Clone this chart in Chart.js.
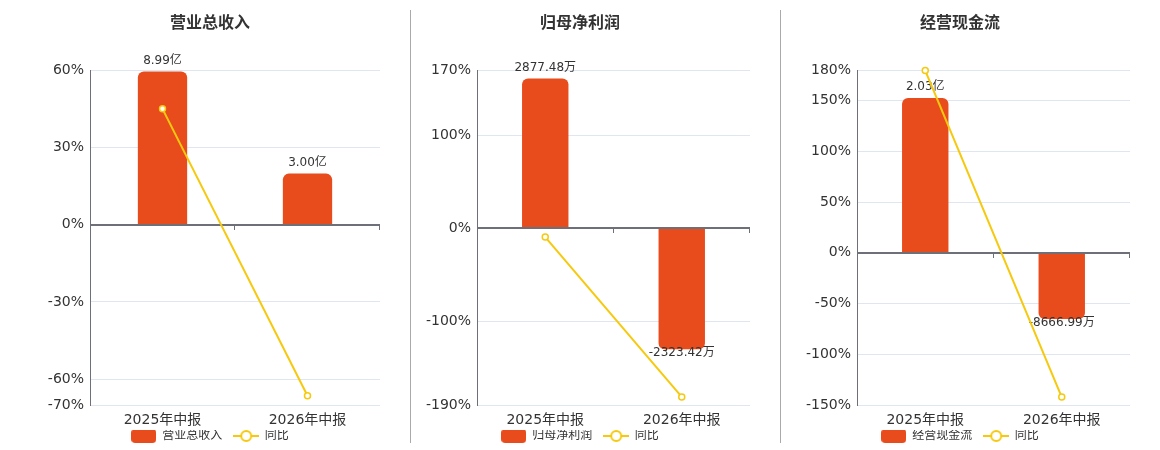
<!DOCTYPE html>
<html>
<head>
<meta charset="utf-8">
<script src="https://cdn.jsdelivr.net/npm/chart.js@4.4.1/dist/chart.umd.min.js"></script>
<style>
  html, body { margin: 0; padding: 0; background: #fff; overflow: hidden; }
  #wrap { position: relative; width: 1160px; height: 450px; overflow: hidden; }
  canvas { position: absolute; top: 0; }
  .sep { position: absolute; top: 10px; width: 1px; height: 433px; background: #aaa; z-index: 2; }
</style>
</head>
<body>
<div id="wrap">
  <canvas id="c1" width="340" height="452" style="left:40px"></canvas>
  <canvas id="c2" width="340" height="452" style="left:410px"></canvas>
  <canvas id="c3" width="340" height="452" style="left:790px"></canvas>
  <div class="sep" style="left:410px"></div>
  <div class="sep" style="left:780px"></div>
</div>
<script>
const periods = ["2025年中报", "2026年中报"];

// 营业总收入, values in 万
const revenue = [89900, 30000];
const revenueLabels = ["8.99亿", "3.00亿"];
const revenueYoy = [45.0, -66.4];
const revenueTicks = [60, 30, 0, -30, -60, -70];

// 归母净利润, values in 万
const netProfit = [2877.48, -2323.42];
const netProfitLabels = ["2877.48万", "-2323.42万"];
const netProfitYoy = [-9.4, -181.3];
const netProfitTicks = [170, 100, 0, -100, -190];

// 经营现金流, values in 万
const cashFlow = [20300, -8666.99];
const cashFlowLabels = ["2.03亿", "-8666.99万"];
const cashFlowYoy = [179.6, -142.2];
const cashFlowTicks = [180, 150, 100, 50, 0, -50, -100, -150];

const FONT = '"DejaVu Sans", "Noto Sans CJK SC", sans-serif';
const RED = "#E84B1C";
const YELLOW = "#F6C90E";
const AXIS = "#6E7079";

Chart.defaults.font.family = FONT;

// legend swatches: rounded bar block and line-with-circle
const barSwatch = document.createElement("canvas");
barSwatch.width = 25;
barSwatch.height = 14;
{
  const c = barSwatch.getContext("2d");
  c.fillStyle = RED;
  c.beginPath();
  c.roundRect(0, 0, 25, 14, 4);
  c.fill();
}
const lineSwatch = document.createElement("canvas");
lineSwatch.width = 26;
lineSwatch.height = 14;
{
  const c = lineSwatch.getContext("2d");
  c.strokeStyle = YELLOW;
  c.lineWidth = 2;
  c.beginPath();
  c.moveTo(0, 7);
  c.lineTo(26, 7);
  c.stroke();
  c.fillStyle = "#fff";
  c.beginPath();
  c.arc(13, 7, 5, 0, Math.PI * 2);
  c.fill();
  c.stroke();
}

// zero axis line with category ticks, plus value labels on the bars
const panelDecor = {
  id: "panelDecor",
  afterDatasetDraw(chart, args, opts) {
    if (args.index !== 0) return;
    const { ctx, chartArea, scales } = chart;
    const zeroY = Math.round(scales.y.getPixelForValue(0));
    ctx.save();
    ctx.strokeStyle = AXIS;
    ctx.lineWidth = 2;
    ctx.beginPath();
    ctx.moveTo(chartArea.left, zeroY);
    ctx.lineTo(chartArea.right, zeroY);
    ctx.stroke();

    ctx.lineWidth = 1;
    const n = chart.data.labels.length;
    const step = (chartArea.right - chartArea.left) / n;
    for (let i = 1; i <= n; i++) {
      const x = Math.round(chartArea.left + step * i) - 0.5;
      ctx.beginPath();
      ctx.moveTo(x, zeroY);
      ctx.lineTo(x, zeroY + 5);
      ctx.stroke();
    }

    ctx.font = "12px " + FONT;
    ctx.fillStyle = "#333";
    ctx.textAlign = "center";
    ctx.textBaseline = "middle";
    const values = chart.data.datasets[0].data;
    args.meta.data.forEach((bar, i) => {
      const y = values[i] >= 0 ? bar.y - 11 : bar.y + 4;
      ctx.fillText(opts.labels[i], bar.x, y);
    });
    ctx.restore();
  },
};

const renderPanel = (canvasId, p) => {
  const maxPct = p.ticks[0];
  const minPct = p.ticks[p.ticks.length - 1];

  return new Chart(document.getElementById(canvasId), {
    type: "bar",
    data: {
      labels: periods,
      datasets: [
        {
          type: "bar",
          label: p.name,
          data: p.values,
          yAxisID: "y1",
          order: 1,
          backgroundColor: RED,
          borderRadius: 6,
          barPercentage: 0.34,
          categoryPercentage: 1,
        },
        {
          type: "line",
          label: "同比",
          data: p.yoy,
          yAxisID: "y",
          order: 0,
          borderColor: YELLOW,
          borderWidth: 2,
          pointRadius: 3,
          pointHoverRadius: 3,
          pointBackgroundColor: "#fff",
          pointBorderColor: YELLOW,
          pointBorderWidth: 1.5,
          tension: 0,
          fill: false,
          clip: false,
        },
      ],
    },
    options: {
      responsive: false,
      animation: false,
      layout: { padding: 0, autoPadding: false },
      scales: {
        x: {
          grid: { display: false, drawTicks: false },
          border: { display: false },
          ticks: { color: "#333", font: { size: 14 }, padding: 7 },
          afterFit: (s) => {
            s.height = 25;
          },
        },
        y: {
          position: "left",
          min: minPct,
          max: maxPct,
          afterBuildTicks: (s) => {
            s.ticks = p.ticks.map((v) => ({ value: v }));
          },
          afterFit: (s) => {
            s.width = p.axisWidth;
          },
          ticks: {
            color: "#333",
            font: { size: 14 },
            padding: 6,
            autoSkip: false,
            callback: (v) => v + "%",
          },
          grid: { color: "#E0E6F1", drawTicks: false },
          border: { color: AXIS },
        },
        y1: {
          display: false,
          min: minPct * p.unitPerPct,
          max: maxPct * p.unitPerPct,
        },
      },
      plugins: {
        title: {
          display: true,
          text: p.title,
          color: "#333",
          font: { size: 16, weight: "bold" },
          padding: { top: 14, bottom: 37 },
        },
        legend: {
          position: "bottom",
          labels: {
            usePointStyle: true,
            pointStyleWidth: 25,
            boxHeight: 12,
            color: "#333",
            font: { size: 12 },
            padding: 0,
            generateLabels: (chart) => {
              const items = Chart.defaults.plugins.legend.labels.generateLabels(chart);
              items.sort((a, b) => a.datasetIndex - b.datasetIndex);
              items.forEach((item, i) => {
                item.pointStyle = item.datasetIndex === 0 ? barSwatch : lineSwatch;
                // gap before the next legend entry
                if (i < items.length - 1) item.text += "   ";
              });
              return items;
            },
          },
        },
        tooltip: { enabled: false },
        panelDecor: { labels: p.labels },
      },
    },
    plugins: [panelDecor],
  });
};

renderPanel("c1", {
  title: "营业总收入",
  name: "营业总收入",
  values: revenue,
  labels: revenueLabels,
  yoy: revenueYoy,
  ticks: revenueTicks,
  unitPerPct: 1512,
  axisWidth: 50,
});

renderPanel("c2", {
  title: "归母净利润",
  name: "归母净利润",
  values: netProfit,
  labels: netProfitLabels,
  yoy: netProfitYoy,
  ticks: netProfitTicks,
  unitPerPct: 17.85,
  axisWidth: 67,
});

renderPanel("c3", {
  title: "经营现金流",
  name: "经营现金流",
  values: cashFlow,
  labels: cashFlowLabels,
  yoy: cashFlowYoy,
  ticks: cashFlowTicks,
  unitPerPct: 133,
  axisWidth: 67,
});
</script>
</body>
</html>
